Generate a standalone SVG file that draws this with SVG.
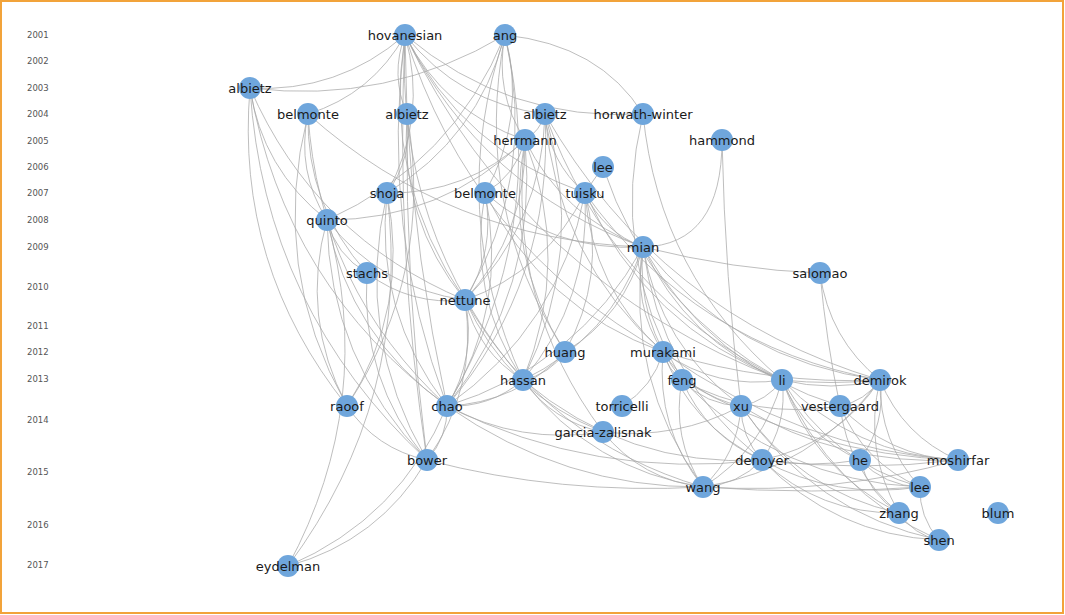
<svg xmlns="http://www.w3.org/2000/svg" width="1065" height="615" viewBox="0 0 1065 615">
<style>
.yr{font-family:"DejaVu Sans",sans-serif;font-size:8.5px;fill:#555}
.e path{fill:none;stroke:#a8a8a8;stroke-opacity:0.75;stroke-width:1}
.n circle{fill:#6fa6dc}
.n text{font-family:"DejaVu Sans",sans-serif;font-size:13px;fill:#1a1a1a;text-anchor:middle;dominant-baseline:central}
</style>
<rect x="0" y="0" width="1065" height="615" fill="#fff"/>
<rect x="1" y="1" width="1062" height="612" fill="none" stroke="#f2a33a" stroke-width="2"/>
<g id="years">
<text class="yr" x="27" y="38">2001</text>
<text class="yr" x="27" y="64">2002</text>
<text class="yr" x="27" y="91">2003</text>
<text class="yr" x="27" y="117">2004</text>
<text class="yr" x="27" y="144">2005</text>
<text class="yr" x="27" y="170">2006</text>
<text class="yr" x="27" y="196">2007</text>
<text class="yr" x="27" y="223">2008</text>
<text class="yr" x="27" y="250">2009</text>
<text class="yr" x="27" y="290">2010</text>
<text class="yr" x="27" y="329">2011</text>
<text class="yr" x="27" y="355">2012</text>
<text class="yr" x="27" y="382">2013</text>
<text class="yr" x="27" y="423">2014</text>
<text class="yr" x="27" y="475">2015</text>
<text class="yr" x="27" y="528">2016</text>
<text class="yr" x="27" y="568">2017</text>
</g>
<g id="connectors" class="e">
<path d="M405 35 Q338 93 250 88"/>
<path d="M405 35 Q372 94 308 114"/>
<path d="M405 35 Q390 75 407 114"/>
<path d="M405 35 L407 114"/>
<path d="M405 35 Q459 103 545 114"/>
<path d="M405 35 Q508 122 643 114"/>
<path d="M405 35 Q444 112 525 140"/>
<path d="M405 35 Q463 150 585 193"/>
<path d="M405 35 Q482 189 643 247"/>
<path d="M405 35 Q382 180 465 300"/>
<path d="M405 35 Q380 229 447 406"/>
<path d="M405 35 Q395 252 427 460"/>
<path d="M405 35 Q428 118 387 193"/>
<path d="M405 35 Q471 245 663 352"/>
<path d="M405 35 Q525 283 782 380"/>
<path d="M405 35 Q395 231 523 380"/>
<path d="M505 35 Q388 105 250 88"/>
<path d="M505 35 Q478 138 387 193"/>
<path d="M505 35 Q453 163 327 220"/>
<path d="M505 35 Q527 118 485 193"/>
<path d="M505 35 Q538 176 465 300"/>
<path d="M505 35 Q550 232 447 406"/>
<path d="M505 35 Q445 211 523 380"/>
<path d="M505 35 Q600 45 643 114"/>
<path d="M505 35 Q494 92 525 140"/>
<path d="M505 35 Q472 206 565 352"/>
<path d="M250 88 Q262 169 327 220"/>
<path d="M250 88 Q235 266 347 406"/>
<path d="M250 88 Q285 286 447 406"/>
<path d="M250 88 Q315 237 465 300"/>
<path d="M250 88 Q264 309 427 460"/>
<path d="M308 114 Q296 171 327 220"/>
<path d="M308 114 Q269 268 347 406"/>
<path d="M308 114 Q319 288 447 406"/>
<path d="M308 114 Q449 240 643 247"/>
<path d="M308 114 Q306 205 367 273"/>
<path d="M407 114 Q413 158 387 193"/>
<path d="M407 114 Q415 260 447 406"/>
<path d="M407 114 Q405 290 427 460"/>
<path d="M407 114 Q435 272 347 406"/>
<path d="M407 114 Q399 219 465 300"/>
<path d="M545 114 Q540 131 525 140"/>
<path d="M545 114 Q549 162 585 193"/>
<path d="M545 114 Q542 223 465 300"/>
<path d="M545 114 Q587 251 523 380"/>
<path d="M545 114 Q556 257 663 352"/>
<path d="M545 114 Q659 314 880 380"/>
<path d="M545 114 Q610 294 782 380"/>
<path d="M545 114 Q554 280 447 406"/>
<path d="M643 114 Q609 255 682 380"/>
<path d="M643 114 Q659 275 782 380"/>
<path d="M722 140 Q722 245 643 247"/>
<path d="M722 140 Q725 280 741 406"/>
<path d="M603 167 Q592 182 585 193"/>
<path d="M603 167 Q650 309 782 380"/>
<path d="M585 193 Q546 271 465 300"/>
<path d="M585 193 Q559 327 447 406"/>
<path d="M585 193 Q591 299 523 380"/>
<path d="M585 193 Q607 277 565 352"/>
<path d="M585 193 Q592 288 663 352"/>
<path d="M585 193 Q646 326 782 380"/>
<path d="M585 193 Q695 346 880 380"/>
<path d="M585 193 Q603 232 643 247"/>
<path d="M387 193 Q410 308 347 406"/>
<path d="M387 193 Q354 335 427 460"/>
<path d="M387 193 Q374 312 447 406"/>
<path d="M387 193 Q412 399 288 566"/>
<path d="M525 140 Q467 194 387 193"/>
<path d="M485 193 Q553 252 643 247"/>
<path d="M485 193 Q496 251 465 300"/>
<path d="M485 193 Q509 307 447 406"/>
<path d="M485 193 Q542 308 663 352"/>
<path d="M485 193 Q467 294 523 380"/>
<path d="M525 140 Q516 175 485 193"/>
<path d="M525 140 Q527 232 465 300"/>
<path d="M525 140 Q572 260 523 380"/>
<path d="M525 140 Q503 254 565 352"/>
<path d="M525 140 Q539 289 447 406"/>
<path d="M525 140 Q563 217 643 247"/>
<path d="M525 140 Q506 302 603 432"/>
<path d="M327 220 Q300 317 347 406"/>
<path d="M327 220 Q350 337 447 406"/>
<path d="M327 220 Q329 360 427 460"/>
<path d="M327 220 Q380 288 465 300"/>
<path d="M327 220 Q377 401 288 566"/>
<path d="M327 220 Q336 255 367 273"/>
<path d="M525 140 Q442 220 327 220"/>
<path d="M643 247 Q735 270 820 273"/>
<path d="M643 247 Q625 315 565 352"/>
<path d="M643 247 Q610 338 523 380"/>
<path d="M643 247 Q632 304 663 352"/>
<path d="M643 247 Q636 321 682 380"/>
<path d="M643 247 Q686 341 782 380"/>
<path d="M643 247 Q735 361 880 380"/>
<path d="M643 247 Q660 346 741 406"/>
<path d="M643 247 Q660 377 762 460"/>
<path d="M643 247 Q625 379 703 487"/>
<path d="M643 247 Q577 366 447 406"/>
<path d="M643 247 Q710 366 840 406"/>
<path d="M367 273 Q411 306 465 300"/>
<path d="M367 273 Q360 379 427 460"/>
<path d="M820 273 Q829 339 880 380"/>
<path d="M820 273 Q826 340 840 406"/>
<path d="M465 300 Q477 357 447 406"/>
<path d="M465 300 Q478 352 523 380"/>
<path d="M465 300 Q478 388 427 460"/>
<path d="M465 300 Q547 441 703 487"/>
<path d="M465 300 Q508 394 603 432"/>
<path d="M565 352 Q550 374 523 380"/>
<path d="M565 352 Q517 403 447 406"/>
<path d="M663 352 Q668 370 682 380"/>
<path d="M663 352 Q717 390 782 380"/>
<path d="M663 352 Q770 385 880 380"/>
<path d="M663 352 Q691 426 762 460"/>
<path d="M663 352 Q653 387 622 406"/>
<path d="M663 352 Q656 428 703 487"/>
<path d="M663 352 Q800 450 958 460"/>
<path d="M663 352 Q691 395 741 406"/>
<path d="M523 380 Q490 408 447 406"/>
<path d="M523 380 Q553 422 603 432"/>
<path d="M523 380 Q627 468 762 460"/>
<path d="M523 380 Q592 470 703 487"/>
<path d="M682 380 Q706 405 741 406"/>
<path d="M682 380 Q706 436 762 460"/>
<path d="M682 380 Q671 438 703 487"/>
<path d="M682 380 Q810 455 958 460"/>
<path d="M682 380 Q780 481 920 487"/>
<path d="M682 380 Q756 420 840 406"/>
<path d="M782 380 Q767 401 741 406"/>
<path d="M782 380 Q831 392 880 380"/>
<path d="M782 380 Q831 385 880 380"/>
<path d="M782 380 Q788 424 762 460"/>
<path d="M782 380 Q830 461 920 487"/>
<path d="M782 380 Q814 470 899 513"/>
<path d="M782 380 Q829 491 939 540"/>
<path d="M782 380 Q805 436 860 460"/>
<path d="M782 380 Q764 449 703 487"/>
<path d="M782 380 Q854 455 958 460"/>
<path d="M880 380 Q865 401 840 406"/>
<path d="M880 380 Q903 436 958 460"/>
<path d="M880 380 Q886 424 860 460"/>
<path d="M880 380 Q813 469 703 487"/>
<path d="M880 380 Q863 450 899 513"/>
<path d="M880 380 Q837 444 762 460"/>
<path d="M880 380 Q879 442 920 487"/>
<path d="M347 406 Q376 449 427 460"/>
<path d="M447 406 Q448 437 427 460"/>
<path d="M447 406 Q565 488 703 487"/>
<path d="M447 406 Q520 445 603 432"/>
<path d="M447 406 Q594 480 762 460"/>
<path d="M447 406 Q400 518 288 566"/>
<path d="M741 406 Q741 437 762 460"/>
<path d="M741 406 Q738 454 703 487"/>
<path d="M741 406 Q839 466 958 460"/>
<path d="M741 406 Q799 491 899 513"/>
<path d="M741 406 Q677 440 603 432"/>
<path d="M741 406 Q813 513 939 540"/>
<path d="M840 406 Q864 463 920 487"/>
<path d="M840 406 Q888 457 958 460"/>
<path d="M840 406 Q848 471 899 513"/>
<path d="M603 432 Q642 480 703 487"/>
<path d="M427 460 Q560 495 703 487"/>
<path d="M427 460 Q379 541 288 566"/>
<path d="M762 460 Q836 500 920 487"/>
<path d="M762 460 Q835 535 939 540"/>
<path d="M762 460 Q820 514 899 513"/>
<path d="M762 460 Q738 485 703 487"/>
<path d="M762 460 Q860 472 958 460"/>
<path d="M762 460 Q811 468 860 460"/>
<path d="M860 460 Q869 494 899 513"/>
<path d="M860 460 Q885 486 920 487"/>
<path d="M920 487 Q919 517 939 540"/>
<path d="M899 513 Q914 535 939 540"/>
<path d="M703 487 Q812 495 920 487"/>
<path d="M958 460 Q836 495 703 487"/>
</g>
<g id="hovanesian" class="n"><circle cx="405" cy="35" r="11"/><text x="405" y="35">hovanesian</text></g>
<g id="ang" class="n"><circle cx="505" cy="35" r="11"/><text x="505" y="35">ang</text></g>
<g id="albietz-2003" class="n"><circle cx="250" cy="88" r="11"/><text x="250" y="88">albietz</text></g>
<g id="belmonte-2004" class="n"><circle cx="308" cy="114" r="11"/><text x="308" y="114">belmonte</text></g>
<g id="albietz-2004a" class="n"><circle cx="407" cy="114" r="11"/><text x="407" y="114">albietz</text></g>
<g id="albietz-2004b" class="n"><circle cx="545" cy="114" r="11"/><text x="545" y="114">albietz</text></g>
<g id="horwath-winter" class="n"><circle cx="643" cy="114" r="11"/><text x="643" y="114">horwath-winter</text></g>
<g id="herrmann" class="n"><circle cx="525" cy="140" r="11"/><text x="525" y="140">herrmann</text></g>
<g id="hammond" class="n"><circle cx="722" cy="140" r="11"/><text x="722" y="140">hammond</text></g>
<g id="lee-2006" class="n"><circle cx="603" cy="167" r="11"/><text x="603" y="167">lee</text></g>
<g id="shoja" class="n"><circle cx="387" cy="193" r="11"/><text x="387" y="193">shoja</text></g>
<g id="belmonte-2007" class="n"><circle cx="485" cy="193" r="11"/><text x="485" y="193">belmonte</text></g>
<g id="tuisku" class="n"><circle cx="585" cy="193" r="11"/><text x="585" y="193">tuisku</text></g>
<g id="quinto" class="n"><circle cx="327" cy="220" r="11"/><text x="327" y="220">quinto</text></g>
<g id="mian" class="n"><circle cx="643" cy="247" r="11"/><text x="643" y="247">mian</text></g>
<g id="stachs" class="n"><circle cx="367" cy="273" r="11"/><text x="367" y="273">stachs</text></g>
<g id="salomao" class="n"><circle cx="820" cy="273" r="11"/><text x="820" y="273">salomao</text></g>
<g id="nettune" class="n"><circle cx="465" cy="300" r="11"/><text x="465" y="300">nettune</text></g>
<g id="huang" class="n"><circle cx="565" cy="352" r="11"/><text x="565" y="352">huang</text></g>
<g id="murakami" class="n"><circle cx="663" cy="352" r="11"/><text x="663" y="352">murakami</text></g>
<g id="hassan" class="n"><circle cx="523" cy="380" r="11"/><text x="523" y="380">hassan</text></g>
<g id="feng" class="n"><circle cx="682" cy="380" r="11"/><text x="682" y="380">feng</text></g>
<g id="li" class="n"><circle cx="782" cy="380" r="11"/><text x="782" y="380">li</text></g>
<g id="demirok" class="n"><circle cx="880" cy="380" r="11"/><text x="880" y="380">demirok</text></g>
<g id="raoof" class="n"><circle cx="347" cy="406" r="11"/><text x="347" y="406">raoof</text></g>
<g id="chao" class="n"><circle cx="447" cy="406" r="11"/><text x="447" y="406">chao</text></g>
<g id="torricelli" class="n"><circle cx="622" cy="406" r="11"/><text x="622" y="406">torricelli</text></g>
<g id="xu" class="n"><circle cx="741" cy="406" r="11"/><text x="741" y="406">xu</text></g>
<g id="vestergaard" class="n"><circle cx="840" cy="406" r="11"/><text x="840" y="406">vestergaard</text></g>
<g id="garcia-zalisnak" class="n"><circle cx="603" cy="432" r="11"/><text x="603" y="432">garcia-zalisnak</text></g>
<g id="bower" class="n"><circle cx="427" cy="460" r="11"/><text x="427" y="460">bower</text></g>
<g id="denoyer" class="n"><circle cx="762" cy="460" r="11"/><text x="762" y="460">denoyer</text></g>
<g id="he" class="n"><circle cx="860" cy="460" r="11"/><text x="860" y="460">he</text></g>
<g id="moshirfar" class="n"><circle cx="958" cy="460" r="11"/><text x="958" y="460">moshirfar</text></g>
<g id="wang" class="n"><circle cx="703" cy="487" r="11"/><text x="703" y="487">wang</text></g>
<g id="lee-2016" class="n"><circle cx="920" cy="487" r="11"/><text x="920" y="487">lee</text></g>
<g id="zhang" class="n"><circle cx="899" cy="513" r="11"/><text x="899" y="513">zhang</text></g>
<g id="blum" class="n"><circle cx="998" cy="513" r="11"/><text x="998" y="513">blum</text></g>
<g id="shen" class="n"><circle cx="939" cy="540" r="11"/><text x="939" y="540">shen</text></g>
<g id="eydelman" class="n"><circle cx="288" cy="566" r="11"/><text x="288" y="566">eydelman</text></g>
</svg>
